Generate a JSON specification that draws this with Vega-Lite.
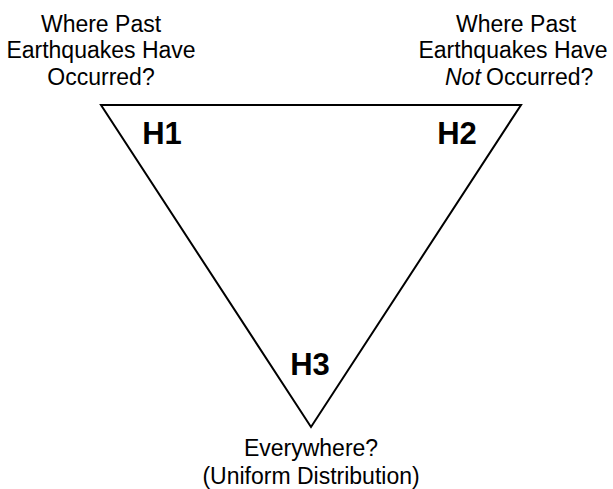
{
  "$schema": "https://vega.github.io/schema/vega-lite/v6.json",
  "width": 613,
  "height": 489,
  "autosize": {"type": "fit", "contains": "padding"},
  "padding": 0,
  "background": "white",
  "config": {"view": {"stroke": null}},
  "datasets": {
    "triangle": [
      {"x": 311, "y": 105, "o": 1},
      {"x": 521, "y": 105, "o": 2},
      {"x": 311, "y": 427, "o": 3},
      {"x": 101, "y": 105, "o": 4},
      {"x": 311, "y": 105, "o": 5}
    ],
    "labels": [
      {"x": 101, "y": 32, "t": "Where Past"},
      {"x": 101, "y": 58, "t": "Earthquakes Have"},
      {"x": 101, "y": 85, "t": "Occurred?"},
      {"x": 516, "y": 32, "t": "Where Past"},
      {"x": 513, "y": 58, "t": "Earthquakes Have"},
      {"x": 311, "y": 456, "t": "Everywhere?"},
      {"x": 311, "y": 484, "t": "(Uniform Distribution)"}
    ],
    "leftlabels": [
      {"x": 486, "y": 85, "t": "Occurred?"}
    ],
    "italic": [
      {"x": 445, "y": 85, "t": "Not"}
    ],
    "hyp": [
      {"x": 162, "y": 144, "t": "H1"},
      {"x": 457, "y": 144, "t": "H2"},
      {"x": 310, "y": 375, "t": "H3"}
    ]
  },
  "encoding": {
    "x": {"field": "x", "type": "quantitative", "scale": {"domain": [0, 613], "nice": false, "zero": false}, "axis": null},
    "y": {"field": "y", "type": "quantitative", "scale": {"domain": [0, 489], "nice": false, "zero": false, "reverse": true}, "axis": null}
  },
  "layer": [
    {
      "data": {"name": "triangle"},
      "mark": {"type": "line", "color": "black", "strokeWidth": 2, "strokeJoin": "miter", "strokeMiterLimit": 20},
      "encoding": {"order": {"field": "o", "type": "quantitative"}}
    },
    {
      "data": {"name": "labels"},
      "mark": {"type": "text", "font": "Liberation Sans", "fontSize": 23, "align": "center", "baseline": "alphabetic", "color": "black"},
      "encoding": {"text": {"field": "t"}}
    },
    {
      "data": {"name": "leftlabels"},
      "mark": {"type": "text", "font": "Liberation Sans", "fontSize": 23, "align": "left", "baseline": "alphabetic", "color": "black"},
      "encoding": {"text": {"field": "t"}}
    },
    {
      "data": {"name": "italic"},
      "mark": {"type": "text", "font": "Liberation Sans", "fontSize": 23, "fontStyle": "italic", "align": "left", "baseline": "alphabetic", "color": "black"},
      "encoding": {"text": {"field": "t"}}
    },
    {
      "data": {"name": "hyp"},
      "mark": {"type": "text", "font": "Liberation Sans", "fontSize": 31, "fontWeight": "bold", "align": "center", "baseline": "alphabetic", "color": "black"},
      "encoding": {"text": {"field": "t"}}
    }
  ]
}
